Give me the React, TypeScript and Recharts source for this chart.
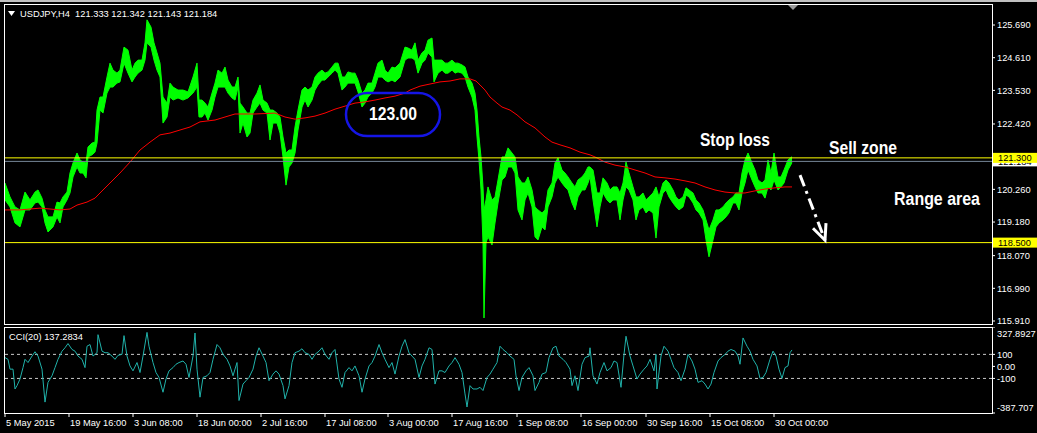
import React from 'react';
import {
  ComposedChart,
  Area,
  Line,
  XAxis,
  YAxis,
  ReferenceLine,
  ReferenceDot,
} from 'recharts';

// USDJPY H4. Bar number counts H4 bars from 5 May 2015.
// [bar, low, high]
const usdjpyBars: [number, number, number][] = [
  [0, 119.91, 120.47], [5, 119.68, 120.01], [10, 119.15, 119.68], [15, 119.02, 119.58],
  [20, 119.58, 120.17], [25, 119.58, 119.91], [30, 119.81, 120.17], [33, 119.84, 120.24],
  [37, 119.68, 119.97], [40, 119.15, 119.58], [43, 118.85, 119.35], [48, 119.02, 119.35],
  [52, 119.35, 119.84], [55, 119.15, 119.81], [58, 119.68, 120.01], [62, 119.91, 120.17],
  [65, 120.14, 120.8], [68, 120.67, 121.13], [72, 121.0, 121.46], [75, 120.8, 121.23],
  [78, 120.8, 121.16], [81, 120.64, 121.13], [83, 121.33, 121.66], [87, 121.4, 121.79],
  [90, 121.49, 121.82], [92, 121.79, 122.88], [95, 122.88, 123.31], [98, 122.78, 123.31],
  [102, 123.44, 123.97], [105, 123.64, 124.43], [108, 123.64, 124.2], [112, 123.77, 124.1],
  [115, 123.81, 124.2], [119, 124.43, 124.96], [123, 124.1, 124.86], [127, 123.81, 124.2],
  [130, 123.97, 124.43], [133, 124.1, 124.53], [137, 124.2, 124.53], [140, 124.53, 125.1],
  [142, 125.1, 125.86], [146, 124.96, 125.62], [149, 124.53, 125.1], [152, 124.2, 124.77],
  [155, 123.97, 124.43], [158, 122.45, 123.31], [162, 122.65, 123.11], [165, 123.31, 123.77],
  [168, 123.21, 123.64], [173, 123.28, 123.54], [178, 123.21, 123.54], [183, 123.28, 123.48],
  [188, 123.44, 123.97], [192, 123.64, 124.43], [194, 122.65, 123.21], [197, 122.65, 123.21],
  [200, 122.78, 123.11], [203, 122.55, 122.98], [207, 122.88, 123.44], [210, 123.31, 123.77],
  [213, 123.64, 124.2], [217, 123.64, 124.1], [220, 123.64, 124.3], [223, 123.44, 123.87],
  [227, 123.28, 123.64], [230, 123.21, 123.64], [233, 123.64, 123.97], [235, 122.12, 123.11],
  [238, 122.45, 122.98], [242, 121.99, 122.78], [245, 122.12, 122.78], [248, 122.78, 123.21],
  [252, 122.98, 123.44], [255, 123.11, 123.71], [258, 122.88, 123.21], [262, 122.78, 123.11],
  [265, 121.89, 122.88], [268, 122.45, 122.88], [272, 122.45, 122.78], [275, 122.12, 122.65],
  [278, 121.33, 121.99], [281, 120.4, 121.46], [284, 121.0, 121.56], [287, 121.13, 121.56],
  [290, 121.46, 122.32], [293, 122.22, 122.88], [297, 122.98, 123.54], [300, 123.21, 123.64],
  [303, 122.98, 123.54], [307, 123.21, 123.64], [310, 123.54, 123.97], [313, 123.71, 124.1],
  [317, 123.87, 124.2], [320, 123.87, 124.1], [323, 123.97, 124.14], [327, 124.1, 124.3],
  [330, 124.2, 124.43], [333, 124.1, 124.43], [337, 123.54, 123.97], [340, 123.64, 123.97],
  [343, 123.77, 124.14], [347, 123.77, 124.1], [350, 123.77, 124.1], [353, 123.48, 123.87],
  [357, 122.98, 123.44], [360, 123.11, 123.54], [363, 123.31, 123.77], [367, 123.44, 123.77],
  [370, 123.64, 124.1], [373, 123.97, 124.43], [377, 123.97, 124.53], [380, 123.87, 124.2],
  [383, 123.81, 124.1], [387, 123.87, 124.3], [390, 123.81, 124.27], [395, 123.97, 124.43],
  [400, 124.53, 124.96], [403, 124.6, 124.93], [407, 124.6, 124.86], [410, 124.53, 125.1],
  [413, 124.1, 124.53], [417, 124.43, 124.77], [420, 124.53, 124.86], [423, 124.77, 125.19],
  [427, 124.63, 125.26], [429, 123.81, 124.53], [433, 124.1, 124.53], [437, 124.2, 124.53],
  [440, 124.1, 124.43], [443, 124.1, 124.43], [447, 124.2, 124.53], [450, 124.1, 124.43],
  [453, 124.14, 124.43], [457, 124.1, 124.37], [460, 123.97, 124.3], [463, 123.64, 123.97],
  [467, 123.31, 123.77], [470, 122.88, 123.44], [472, 121.99, 122.88], [474, 121.23, 121.99],
  [476, 120.24, 121.33], [478, 118.49, 120.34], [479, 116.01, 119.58], [481, 118.49, 119.91],
  [483, 118.69, 120.34], [487, 118.42, 119.91], [490, 119.15, 120.01], [493, 119.81, 120.57],
  [497, 120.57, 121.33], [500, 120.67, 121.33], [503, 121.0, 121.63], [507, 121.0, 121.46],
  [510, 120.8, 121.33], [513, 119.58, 120.67], [517, 119.25, 120.47], [520, 119.91, 120.47],
  [523, 120.14, 120.67], [527, 119.68, 120.24], [530, 118.69, 119.68], [533, 118.59, 119.58],
  [537, 119.02, 119.48], [540, 118.92, 119.58], [543, 119.68, 120.24], [547, 120.01, 120.47],
  [550, 120.47, 121.13], [553, 120.67, 121.3], [557, 120.47, 120.9], [560, 120.34, 120.8],
  [563, 120.24, 120.67], [567, 119.81, 120.47], [570, 119.58, 120.34], [573, 120.01, 120.57],
  [577, 120.24, 120.67], [580, 120.24, 120.8], [583, 120.47, 121.0], [585, 120.67, 121.0],
  [588, 119.91, 120.9], [592, 119.02, 120.14], [595, 119.68, 120.14], [598, 120.14, 120.64],
  [602, 119.91, 120.47], [605, 119.81, 120.24], [608, 119.91, 120.34], [612, 119.91, 120.34],
  [615, 119.25, 120.14], [618, 119.91, 120.47], [621, 120.34, 121.16], [624, 120.24, 120.8],
  [628, 119.91, 120.34], [631, 119.25, 120.01], [634, 119.58, 120.01], [638, 119.68, 120.14],
  [641, 119.48, 119.91], [644, 119.58, 120.01], [648, 119.48, 120.14], [651, 118.65, 120.34],
  [654, 119.68, 120.01], [658, 120.14, 120.47], [661, 120.24, 120.57], [664, 120.01, 120.47],
  [668, 119.81, 120.24], [671, 119.68, 120.01], [674, 119.58, 119.91], [678, 119.68, 120.01],
  [681, 120.07, 120.31], [684, 120.01, 120.24], [688, 119.81, 120.14], [691, 119.58, 119.91],
  [694, 119.48, 119.81], [698, 119.25, 119.58], [701, 118.59, 119.25], [704, 118.03, 118.92],
  [708, 118.59, 119.25], [711, 119.02, 119.58], [714, 119.15, 119.58], [718, 119.25, 119.68],
  [721, 119.35, 119.81], [724, 119.48, 119.91], [728, 119.81, 120.01], [731, 119.81, 120.14],
  [734, 119.58, 120.14], [737, 120.14, 120.8], [740, 120.47, 121.23], [743, 120.9, 121.46],
  [747, 120.57, 121.13], [750, 120.34, 120.9], [753, 120.14, 120.57], [757, 120.14, 120.47],
  [760, 119.97, 120.57], [763, 120.34, 121.23], [766, 120.24, 120.8], [769, 120.57, 121.46],
  [773, 120.24, 120.67], [776, 120.34, 120.67], [779, 120.47, 120.9], [783, 120.9, 121.23],
  [787, 121.14, 121.34],
];

// red moving average: [bar, value]
const maLine: [number, number][] = [
  [0, 119.58], [15, 119.58], [35, 119.64], [55, 119.58], [65, 119.61], [72, 119.74],
  [82, 119.84], [90, 119.97], [95, 120.14], [105, 120.47], [115, 120.8], [125, 121.16],
  [135, 121.56], [145, 121.82], [155, 122.06], [165, 122.12], [175, 122.22], [185, 122.32],
  [195, 122.49], [210, 122.55], [220, 122.65], [230, 122.75], [250, 122.75], [270, 122.78],
  [280, 122.65], [290, 122.58], [300, 122.62], [310, 122.68], [320, 122.78], [330, 122.91],
  [340, 123.01], [350, 123.11], [360, 123.15], [370, 123.21], [380, 123.28], [390, 123.34],
  [400, 123.44], [405, 123.54], [415, 123.67], [425, 123.74], [435, 123.81], [445, 123.84],
  [455, 123.91], [465, 123.91], [471, 123.84], [475, 123.71], [480, 123.54], [485, 123.31],
  [492, 123.11], [497, 122.98], [505, 122.88], [512, 122.72], [520, 122.49], [530, 122.29],
  [540, 121.99], [547, 121.82], [555, 121.73], [565, 121.63], [575, 121.49], [585, 121.4],
  [590, 121.33], [600, 121.16], [610, 121.06], [620, 121.0], [630, 120.9], [640, 120.8],
  [650, 120.67], [660, 120.64], [670, 120.6], [680, 120.54], [690, 120.47], [700, 120.34],
  [710, 120.24], [720, 120.17], [730, 120.14], [740, 120.14], [750, 120.21], [760, 120.27],
  [770, 120.31], [780, 120.34], [787, 120.34],
];

// CCI(20): [bar, value]
const cciLine: [number, number][] = [
  [0, 73], [3, 59], [5, -23], [8, -23], [10, -188], [12, -160], [15, -105], [18, -10],
  [20, 59], [23, 32], [27, 86], [30, 122], [33, 86], [37, -23], [40, -297], [43, -133],
  [47, -78], [50, -10], [53, 59], [57, 127], [60, 155], [63, 190], [67, 141], [70, 127],
  [73, 86], [77, 59], [80, -10], [82, 168], [85, 182], [88, 86], [92, 114], [93, 264],
  [97, 127], [100, 114], [103, 114], [107, 86], [110, 59], [113, 92], [117, 100], [119, 256],
  [122, 86], [125, 4], [128, -37], [132, 32], [135, -51], [138, 86], [142, 283], [144, 168],
  [148, 32], [151, -51], [154, -92], [158, -215], [161, -105], [164, -37], [168, -10], [171, 18],
  [174, 32], [178, 45], [181, 18], [184, -92], [188, 86], [190, 278], [192, -23], [195, -256],
  [198, -92], [202, -78], [205, -51], [208, 59], [212, 182], [215, 155], [218, 100], [222, 59],
  [225, 4], [228, -78], [232, 32], [234, -284], [238, -147], [241, -119], [244, -92], [248, -23],
  [251, 86], [254, 155], [258, 86], [261, 32], [264, -119], [268, -64], [271, -37], [274, -64],
  [278, -160], [280, -270], [284, -160], [287, 32], [290, 114], [294, 127], [297, 147], [300, 114],
  [304, 100], [307, 59], [310, 100], [314, 127], [317, 155], [320, 100], [324, 59], [327, 114],
  [330, 141], [334, -105], [337, -174], [340, -51], [344, -10], [347, -37], [350, 4], [354, -78],
  [357, -215], [360, -105], [364, 4], [367, 32], [370, 86], [374, 182], [377, 114], [380, 59],
  [384, -10], [387, 32], [390, -64], [394, 86], [397, 168], [400, 223], [404, 114], [407, 86],
  [410, 59], [414, -92], [417, 4], [420, 59], [424, 155], [427, 141], [430, -147], [434, -37],
  [437, -37], [440, -51], [444, 4], [447, 32], [450, 73], [454, 18], [457, -51], [460, -229],
  [462, -338], [465, -160], [468, -188], [472, -188], [475, -174], [478, -201], [482, -92], [485, -64],
  [488, -23], [492, 32], [495, 168], [498, 141], [502, 114], [505, 86], [509, 59], [511, -78],
  [514, -201], [517, -92], [521, -37], [524, -10], [528, -78], [530, -201], [534, -133], [537, -64],
  [541, -51], [544, 73], [548, 155], [551, 168], [554, 86], [558, 59], [561, 32], [565, -23],
  [567, -160], [570, -78], [573, -201], [577, 18], [580, 73], [584, 86], [585, 155], [588, -78],
  [592, -147], [595, -51], [599, 32], [602, -37], [606, -10], [609, 45], [612, 32], [616, -174],
  [619, 100], [621, 251], [625, 86], [628, 4], [632, -105], [635, -64], [639, -23], [642, 4],
  [645, 59], [649, -37], [651, 100], [652, -188], [656, 86], [659, 168], [663, 127], [666, 59],
  [669, -10], [673, -51], [676, -119], [680, -23], [683, 100], [687, 45], [690, -23], [693, -133],
  [697, -119], [700, -147], [703, -188], [706, -147], [709, -51], [713, 45], [716, 73], [720, 100],
  [723, 127], [726, 141], [730, 127], [733, 86], [735, 18], [738, 237], [742, 168], [745, 127],
  [748, 59], [752, 4], [755, -100], [758, -92], [761, -51], [765, 59], [768, 127], [771, 86],
  [774, -23], [777, -100], [780, -10], [783, 4], [785, 114], [787, 137],
];

const timeTickBar = [0, 64, 128, 192, 256, 320, 383, 447, 512, 576, 641, 705, 769];
const timeTickLabel = [
  '5 May 2015', '19 May 16:00', '3 Jun 08:00', '18 Jun 00:00', '2 Jul 16:00', '17 Jul 08:00',
  '3 Aug 00:00', '17 Aug 16:00', '1 Sep 08:00', '16 Sep 00:00', '30 Sep 16:00', '15 Oct 08:00',
  '30 Oct 00:00',
];
const priceTicks = [125.69, 124.61, 123.53, 122.42, 120.26, 119.18, 118.07, 116.99, 115.91];
const cciTicks = [327.8927, 100, 0, -100, -387.707];
const cciTickLabel = ['327.8927', '100', '0.00', '-100', '-387.707'];

const sellLevel = 121.3;
const floorLevel = 118.5;
const bidPrice = 121.184;
const lastOhlc = ['121.333', '121.342', '121.143', '121.184'];
const cciLast = '137.2834';

const BAR_DOMAIN: [number, number] = [-1, 987];
const PRICE_DOMAIN: [number, number] = [115.778, 126.384];
const CCI_DOMAIN: [number, number] = [-387.707, 327.8927];

const FONT = '"Liberation Sans", Arial, sans-serif';
const AXIS_FS = 9.3;

const priceData = usdjpyBars.map(([bar, low, high]) => ({ bar, range: [low, high] }));
const maData = maLine.map(([bar, ma]) => ({ bar, ma }));
const cciData = cciLine.map(([bar, cci]) => ({ bar, cci }));

// coloured price tag drawn on the right price scale
const PriceTag = (props: any) => {
  const { viewBox, text, bg } = props;
  if (!viewBox) return null;
  const x = viewBox.x + viewBox.width + 1;
  const y = viewBox.y;
  return (
    <g>
      <rect x={x} y={y - 5} width={44} height={10} fill={bg} />
      <text x={x + 5} y={y} dy="0.355em" fill="#000" fontSize={AXIS_FS} fontFamily={FONT}>
        {text}
      </text>
    </g>
  );
};

const note = (label: string, size: number, len: number, anchor: 'start' | 'middle' = 'start') =>
  (p: any) => (
    <text
      x={p.cx}
      y={p.cy}
      fill="#fff"
      fontSize={size}
      fontWeight="bold"
      fontFamily={FONT}
      textAnchor={anchor}
      textLength={len}
      lengthAdjust="spacingAndGlyphs"
    >
      {label}
    </text>
  );

const Pill = (p: any) => (
  <g>
    <rect x={p.cx - 47} y={p.cy - 21.5} width={94} height={43} rx={21.5} fill="none" stroke="#1515e6" strokeWidth={2.5} />
    <text
      x={p.cx}
      y={p.cy + 5}
      fill="#fff"
      fontSize={19}
      fontWeight="bold"
      fontFamily={FONT}
      textAnchor="middle"
      textLength={48}
      lengthAdjust="spacingAndGlyphs"
    >
      123.00
    </text>
  </g>
);

const ArrowHead = (p: any) => (
  <path
    d={`M${p.cx - 12},${p.cy - 12} L${p.cx},${p.cy} L${p.cx + 1},${p.cy - 17}`}
    fill="none"
    stroke="#fff"
    strokeWidth={3}
  />
);

const CciTick = (props: any) => {
  const { x, y, payload } = props;
  const i = cciTicks.indexOf(payload.value);
  let dy = 0;
  if (i === 0) dy = 7;
  if (i === cciTicks.length - 1) dy = -5;
  return (
    <text x={x} y={y + dy} dy="0.355em" fill="#fff" fontSize={AXIS_FS} fontFamily={FONT} textAnchor="start">
      {cciTickLabel[i]}
    </text>
  );
};

const TimeTick = (props: any) => {
  const { x, y, payload } = props;
  const i = timeTickBar.indexOf(payload.value);
  return (
    <text x={x + 1} y={y} dy="0.71em" fill="#fff" fontSize={AXIS_FS} fontFamily={FONT} textAnchor="start">
      {timeTickLabel[i]}
    </text>
  );
};

export default function App() {
  return (
    <div
      style={{
        position: 'absolute',
        left: 0,
        top: 0,
        width: 1037,
        height: 433,
        background: '#000',
        overflow: 'hidden',
        fontFamily: FONT,
        borderTop: '2px solid #c0c0c0',
        boxSizing: 'border-box',
      }}
    >
      <div style={{ position: 'absolute', left: 0, top: -2 }}>
        <ComposedChart width={1037} height={326} margin={{ top: 4, right: 0, bottom: 1, left: 4 }}>
          <XAxis dataKey="bar" type="number" domain={BAR_DOMAIN} allowDataOverflow hide />
          <YAxis
            orientation="right"
            type="number"
            domain={PRICE_DOMAIN}
            allowDataOverflow
            ticks={priceTicks}
            interval={0}
            width={45}
            axisLine={false}
            tickSize={3}
            tickLine={{ stroke: '#fff' }}
            tick={{ fill: '#fff', fontSize: AXIS_FS, fontFamily: FONT }}
            tickFormatter={(v: number) => v.toFixed(3)}
          />
          <Area
            data={priceData}
            dataKey="range"
            type="linear"
            stroke="#00ff00"
            strokeWidth={1}
            fill="#00ff00"
            fillOpacity={1}
            dot={false}
            activeDot={false}
            isAnimationActive={false}
          />
          <Line
            data={maData}
            dataKey="ma"
            type="linear"
            stroke="#ff0000"
            strokeWidth={1}
            dot={false}
            activeDot={false}
            isAnimationActive={false}
          />
          <ReferenceLine y={bidPrice} stroke="#778899" label={<PriceTag text="121.184" bg="#ffffff" />} />
          <ReferenceLine y={sellLevel} stroke="#ffff00" label={<PriceTag text="121.300" bg="#ffff00" />} />
          <ReferenceLine y={floorLevel} stroke="#ffff00" label={<PriceTag text="118.500" bg="#ffff00" />} />
          <ReferenceDot x={388} y={122.73} r={0} shape={Pill} />
          <ReferenceDot x={695} y={121.69} r={0} shape={note('Stop loss', 17.5, 70)} />
          <ReferenceDot x={824} y={121.43} r={0} shape={note('Sell zone', 17.5, 68)} />
          <ReferenceDot x={889} y={119.73} r={0} shape={note('Range area', 17.5, 86)} />
          <ReferenceLine
            segment={[{ x: 795, y: 120.73 }, { x: 820, y: 118.58 }]}
            stroke="#fff"
            strokeWidth={3}
            strokeDasharray="12 5 3 5"
          />
          <ReferenceDot x={820} y={118.58} r={0} shape={ArrowHead} />
        </ComposedChart>
      </div>

      <div style={{ position: 'absolute', left: 0, top: 325 }}>
        <ComposedChart width={1037} height={106} margin={{ top: 0, right: 0, bottom: 0, left: 4 }}>
          <XAxis
            dataKey="bar"
            type="number"
            domain={BAR_DOMAIN}
            allowDataOverflow
            ticks={timeTickBar}
            interval={0}
            height={20}
            axisLine={false}
            tickSize={4}
            tickLine={{ stroke: '#fff' }}
            tick={<TimeTick />}
          />
          <YAxis
            orientation="right"
            type="number"
            domain={CCI_DOMAIN}
            allowDataOverflow
            ticks={cciTicks}
            interval={0}
            width={45}
            axisLine={false}
            tickSize={3}
            tickLine={{ stroke: '#fff' }}
            tick={<CciTick />}
          />
          <ReferenceLine y={100} stroke="#c8c8c8" strokeDasharray="3 3" />
          <ReferenceLine y={-100} stroke="#c8c8c8" strokeDasharray="3 3" />
          <Line
            data={cciData}
            dataKey="cci"
            type="linear"
            stroke="#20b2aa"
            strokeWidth={1}
            dot={false}
            activeDot={false}
            isAnimationActive={false}
          />
        </ComposedChart>
      </div>

      {/* panel frames */}
      <div style={{ position: 'absolute', left: 4, top: 2, width: 987, height: 319, border: '1px solid #fff' }} />
      <div style={{ position: 'absolute', left: 4, top: 325, width: 987, height: 85, border: '1px solid #fff' }} />

      {/* chart shift marker */}
      <svg style={{ position: 'absolute', left: 787, top: 2 }} width={12} height={8}>
        <polygon points="1,1 11,1 6,6" fill="#9a9a9a" />
      </svg>

      <svg style={{ position: 'absolute', left: 8, top: 9 }} width={8} height={6}>
        <polygon points="0,0 7,0 3.5,5" fill="#fff" />
      </svg>
      <div
        style={{
          position: 'absolute',
          left: 20,
          top: 6,
          color: '#fff',
          fontSize: AXIS_FS,
          lineHeight: '12px',
          whiteSpace: 'pre',
        }}
      >
        {'USDJPY,H4  ' + lastOhlc.join(' ')}
      </div>
      <div
        style={{
          position: 'absolute',
          left: 9,
          top: 329,
          color: '#fff',
          fontSize: AXIS_FS,
          lineHeight: '12px',
          whiteSpace: 'pre',
        }}
      >
        {'CCI(20) ' + cciLast}
      </div>
    </div>
  );
}
